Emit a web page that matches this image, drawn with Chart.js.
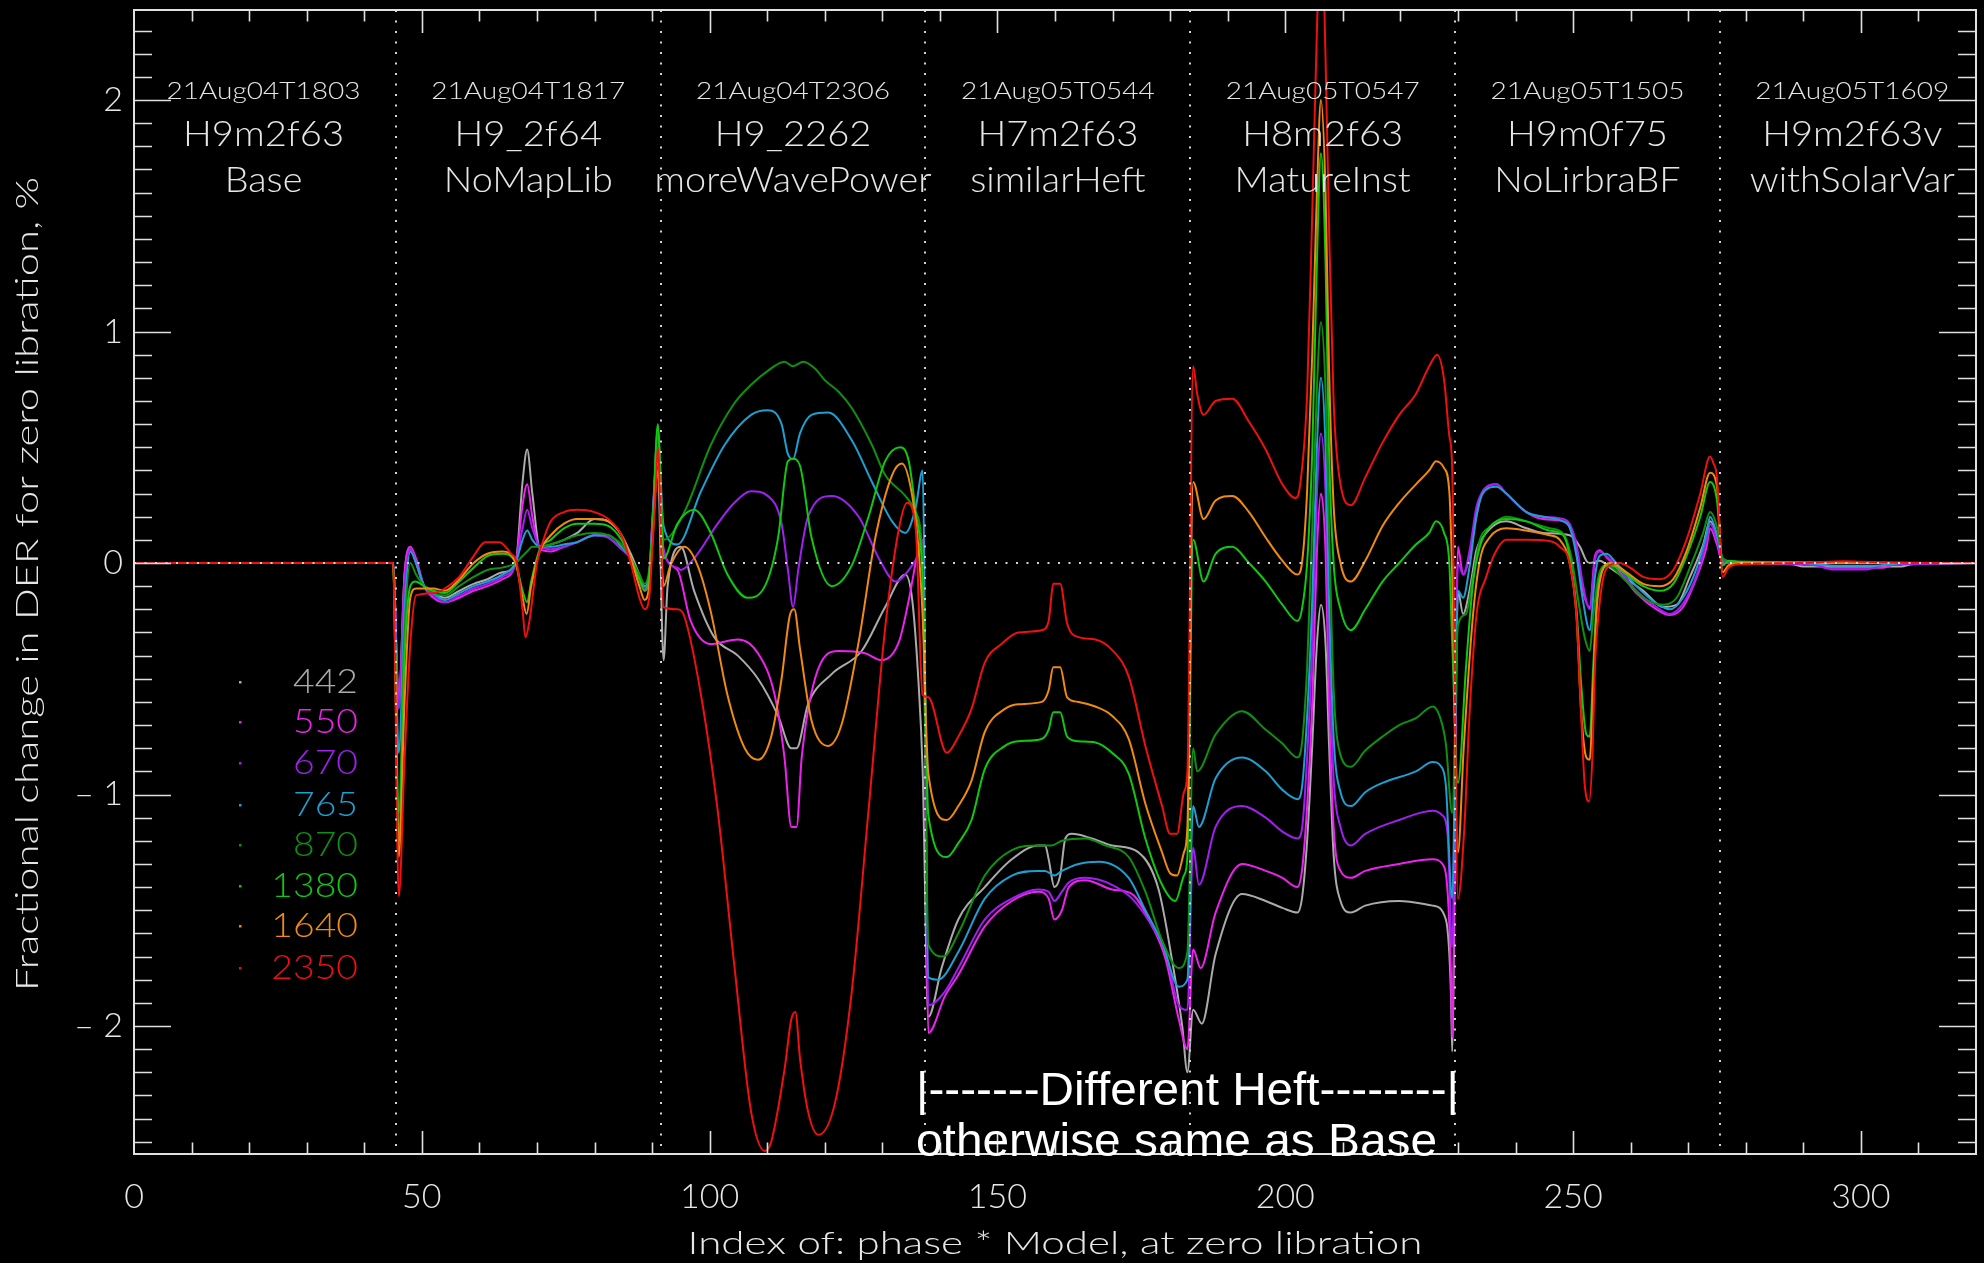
<!DOCTYPE html>
<html><head><meta charset="utf-8">
<script src="https://cdn.jsdelivr.net/npm/chart.js@4.4.1/dist/chart.umd.min.js"></script>
<style>html,body{margin:0;padding:0;background:#000;overflow:hidden}#wrap{width:1984px;height:1263px;position:relative}</style>
</head><body><div id="wrap"><canvas id="c"></canvas></div>
<script>
// ---------------- data ----------------
const wavelengths = ['442','550','670','765','870','1380','1640','2350'];
const seriesColors = ['#ababab','#ee22ee','#a020f0','#1e9fd0','#109010','#10c810','#f08a10','#f01010'];
const xTickValues = [0,50,100,150,200,250,300];
const yTickValues = [-2,-1,0,1,2];
const segBounds = [45.5,91.5,137.5,183.5,229.5,275.5];
const runDates = ['21Aug04T1803','21Aug04T1817','21Aug04T2306','21Aug05T0544','21Aug05T0547','21Aug05T1505','21Aug05T1609'];
const runModels = ['H9m2f63','H9_2f64','H9_2262','H7m2f63','H8m2f63','H9m0f75','H9m2f63v'];
const runNotes = ['Base','NoMapLib','moreWavePower','similarHeft','MatureInst','NoLirbraBF','withSolarVar'];
const noteLines = ['|-------Different Heft--------|','otherwise same as Base'];

const s442 = [[0,0],[45,0],
[46,-0.59],[47,-0.05],[48,0.06],[49,0],[50.4,-0.1],[52,-0.13],[54,-0.15],[56.5,-0.12],[59,-0.09],[61.4,-0.07],[64,-0.04],[66.3,0],[67.5,0.35],[68.3,0.49],[69.2,0.3],[70.5,0.07],[72.4,0.08],[74.7,0.1],[77,0.13],[80,0.19],[82.4,0.18],[84.7,0.12],[86.3,0.04],[87.8,-0.05],[88.7,-0.1],[89.5,-0.05],[90.1,0.15],[91,0.4],
[92,-0.42],[92.7,-0.1],[95,0.07],[97.3,-0.12],[100.8,-0.32],[104.9,-0.4],[108.4,-0.5],[111.9,-0.66],[114.2,-0.8],[115.1,-0.8],[117.1,-0.61],[121.2,-0.48],[126.4,-0.38],[130.5,-0.19],[134,-0.05],[135.2,-0.16],[136.3,-0.52],[137,-0.89],
[138,-1.96],[140.3,-1.75],[143.2,-1.54],[147.8,-1.40],[152.5,-1.28],[157.1,-1.22],[158.3,-1.22],[158.9,-1.28],[159.9,-1.40],[160.9,-1.35],[161.8,-1.19],[162.9,-1.17],[166.4,-1.19],[169.9,-1.22],[174.5,-1.25],[178,-1.41],[180.3,-1.71],[182.1,-2.0],[183,-2.2],
[184,-1.93],[185.5,-1.99],[187.9,-1.69],[192.5,-1.43],[196.6,-1.46],[199.5,-1.49],[202.1,-1.51],[202.9,-1.45],[203.8,-1.20],[204.7,-0.78],[205.5,-0.35],[206.2,-0.18],[207,-0.35],[207.6,-0.78],[208.4,-1.26],[209.6,-1.46],[211.4,-1.51],[213.9,-1.48],[219.8,-1.46],[225.6,-1.48],[227.9,-1.54],[228.8,-1.87],[229,-2.11],
[230,-0.12],[230.9,-0.22],[232,-0.12],[233.2,0.055],[234.3,0.11],[236.7,0.17],[238.4,0.18],[241.9,0.15],[244.8,0.13],[249.4,0.12],[251.2,0.07],[252.3,0.01],[252.9,0],[254.6,0.01],[256.4,-0.02],[259.3,-0.07],[262.2,-0.12],[265.7,-0.19],[268,-0.18],[270.3,-0.06],[272.6,0.08],[273.8,0.18],[275,0.12],
[276,0.01],[278,0],[288,-0.005],[290,-0.015],[307,-0.015],[309,-0.005],[321,0]];

const s550 = [[0,0],[45,0],
[46,-0.6],[47,-0.05],[48,0.07],[49,0.02],[50.4,-0.1],[52,-0.15],[54,-0.17],[56.5,-0.15],[59,-0.12],[61.4,-0.1],[64,-0.07],[66.3,0],[67.5,0.25],[68.3,0.34],[69.2,0.2],[70.5,0.06],[72.4,0.05],[74.7,0.07],[77,0.09],[80,0.12],[82.4,0.11],[84.7,0.06],[86.3,0.02],[87.8,-0.07],[88.7,-0.12],[89.5,-0.06],[90.1,0.2],[91,0.48],
[92,0.06],[94.4,-0.03],[96.7,-0.25],[100.2,-0.35],[104.9,-0.33],[108.4,-0.39],[111.3,-0.57],[113,-0.84],[114.2,-1.14],[115.1,-1.14],[116,-0.84],[118.3,-0.5],[122.4,-0.38],[127,-0.39],[129.9,-0.42],[132.9,-0.34],[134.6,-0.16],[136.3,0.06],[137,0.1],
[138,-2.03],[140.9,-1.87],[143.2,-1.78],[147.8,-1.57],[152.5,-1.46],[157.1,-1.42],[158.9,-1.45],[159.9,-1.54],[161.2,-1.5],[162.4,-1.40],[165.3,-1.37],[169.9,-1.41],[173.4,-1.43],[176.9,-1.57],[179.2,-1.71],[181.5,-1.97],[183,-2.1],
[184,-1.67],[185.3,-1.75],[187.9,-1.51],[192.5,-1.30],[196.6,-1.33],[199.5,-1.36],[202.1,-1.40],[202.9,-1.33],[203.8,-1.05],[204.7,-0.60],[205.5,0.05],[206.2,0.30],[207,0.05],[207.6,-0.60],[208.4,-1.14],[209.6,-1.33],[211.4,-1.36],[213.9,-1.33],[219.8,-1.30],[225.6,-1.28],[227.3,-1.30],[228.2,-1.42],[228.8,-1.78],[229,-2.05],
[230,0.07],[230.9,-0.05],[232,0.03],[233.2,0.2],[234.3,0.31],[236.7,0.34],[238.4,0.3],[241.9,0.22],[244.8,0.19],[248.3,0.18],[249.4,0.155],[250.6,0.055],[251.7,-0.12],[252.9,-0.19],[253.8,0.03],[254.6,0.055],[255.8,0.025],[257.5,-0.02],[261,-0.13],[264.5,-0.2],[266.8,-0.225],[269.1,-0.19],[271.5,-0.06],[273.2,0.07],[273.8,0.15],[275,0.08],
[276,0],[278,0],[292,-0.005],[294,-0.02],[304,-0.02],[306,-0.005],[321,0]];

const s670 = [[0,0],[45,0],
[46,-0.63],[47,-0.1],[48,0.06],[49,0],[50.4,-0.1],[52,-0.14],[54,-0.17],[56.5,-0.14],[59,-0.11],[61.4,-0.09],[64,-0.06],[66.3,0],[67.5,0.15],[68.3,0.23],[69.2,0.15],[70.5,0.07],[72.4,0.06],[74.7,0.07],[77,0.09],[80,0.12],[82.4,0.11],[84.7,0.06],[86.3,0.02],[87.8,-0.06],[88.7,-0.11],[89.5,-0.05],[90.1,0.2],[91,0.5],
[92,0.05],[94.4,-0.02],[95,-0.03],[97.3,0.02],[101.4,0.17],[104.3,0.26],[107.2,0.31],[110.1,0.29],[112.5,0.17],[113.6,-0.03],[114.5,-0.19],[115.4,-0.03],[117.1,0.2],[121.2,0.29],[125.9,0.2],[129.4,0.02],[132.3,-0.08],[134.6,-0.03],[136.3,0.04],[137,0.1],
[138,-1.91],[140.9,-1.85],[143.2,-1.75],[147.8,-1.54],[152.5,-1.45],[157.1,-1.41],[158.9,-1.42],[159.9,-1.46],[161.2,-1.42],[162.4,-1.38],[165.3,-1.36],[169.9,-1.39],[173.4,-1.45],[176.9,-1.57],[179.2,-1.68],[181.5,-1.91],[183,-1.93],
[184,-1.23],[185,-1.39],[187.9,-1.14],[192.5,-1.05],[196.6,-1.10],[199.5,-1.16],[202.1,-1.19],[202.9,-1.15],[203.8,-0.84],[204.7,-0.36],[205.5,0.3],[206.2,0.56],[207,0.3],[207.6,-0.36],[208.4,-0.93],[209.6,-1.14],[211.4,-1.22],[213.9,-1.17],[219.8,-1.11],[225.6,-1.07],[227.3,-1.09],[228.2,-1.17],[229,-1.66],
[230,0],[230.9,-0.05],[232,0.05],[233.2,0.24],[234.3,0.31],[236.7,0.34],[238.4,0.3],[241.9,0.22],[244.8,0.2],[248.3,0.19],[249.4,0.17],[250.6,0.08],[251.7,-0.09],[252.9,-0.2],[253.8,0.01],[254.6,0.05],[255.8,0.03],[257.5,-0.01],[261,-0.12],[264.5,-0.19],[266.8,-0.22],[269.1,-0.175],[271.5,-0.05],[273.2,0.1],[273.8,0.17],[275,0.1],
[276,0.01],[278,0],[292,-0.01],[295,-0.028],[301,-0.028],[304,-0.01],[321,0]];

const s765 = [[0,0],[45,0],
[46,-0.82],[47,-0.2],[48,0.05],[49,0],[50.4,-0.1],[52,-0.13],[54,-0.16],[56.5,-0.13],[59,-0.1],[61.4,-0.08],[64,-0.05],[66.3,0],[67.5,0.1],[68.3,0.14],[69.2,0.1],[70.5,0.07],[72.4,0.07],[74.7,0.08],[77,0.09],[80,0.12],[82.4,0.12],[84.7,0.07],[86.3,0.02],[87.8,-0.06],[88.7,-0.1],[89.5,-0.05],[90.1,0.2],[91,0.55],
[92,0.16],[94.4,0.08],[98.5,0.31],[102.6,0.51],[107.2,0.64],[110.1,0.66],[112.5,0.6],[113.6,0.47],[114.5,0.45],[115.7,0.56],[117.7,0.64],[120.6,0.65],[124.7,0.53],[128.2,0.35],[131.7,0.18],[134,0.13],[135.8,0.24],[137,0.40],
[138,-1.79],[139.7,-1.80],[143.2,-1.68],[147.8,-1.45],[152.5,-1.35],[157.1,-1.33],[158.3,-1.33],[159.9,-1.35],[161.2,-1.33],[164.1,-1.30],[167.6,-1.29],[172.8,-1.36],[175.7,-1.5],[178.6,-1.64],[181.5,-1.83],[183,-1.80],
[184,-1.05],[185,-1.14],[187.9,-0.93],[192.5,-0.84],[196.6,-0.90],[199.5,-0.98],[202.1,-1.02],[202.9,-0.97],[203.8,-0.66],[204.7,-0.15],[205.5,0.5],[206.2,0.80],[207,0.5],[207.6,-0.15],[208.4,-0.75],[209.6,-0.99],[211.4,-1.05],[213.9,-0.99],[216.9,-0.95],[222.7,-0.90],[225.6,-0.86],[227.1,-0.88],[227.9,-0.96],[229,-1.45],
[230,-0.12],[230.9,-0.15],[232,-0.02],[233.2,0.2],[234.3,0.30],[236.7,0.33],[238.4,0.30],[241.9,0.22],[244.8,0.2],[248.3,0.18],[249.4,0.155],[250.6,0.03],[251.7,-0.16],[252.9,-0.29],[253.8,-0.06],[254.6,0.03],[255.8,0.04],[257.5,0],[261,-0.1],[264.5,-0.175],[266.8,-0.2],[269.1,-0.15],[271.5,-0.02],[273.2,0.13],[273.8,0.2],[275,0.12],
[276,0.02],[278,0.005],[290,0],[296,-0.012],[302,-0.012],[308,0],[321,0]];

const s870 = [[0,0],[45,0],
[46,-1.08],[47,-0.3],[48,0],[49,-0.05],[50.4,-0.1],[52,-0.13],[54,-0.14],[56.5,-0.1],[59,-0.06],[61.4,-0.03],[64,-0.02],[66.3,0],[67.5,0.03],[68.3,0.05],[69.2,0.07],[70.5,0.07],[72.4,0.08],[74.7,0.1],[77,0.12],[80,0.13],[82.4,0.12],[84.7,0.08],[86.3,0.02],[87.8,-0.05],[88.7,-0.09],[89.5,-0.03],[90.1,0.15],[91,0.58],
[92,0.1],[95.6,0.22],[100.2,0.51],[104.3,0.69],[107.2,0.77],[110.1,0.83],[113,0.87],[114.5,0.85],[116.3,0.87],[118.3,0.84],[120,0.79],[122.4,0.74],[124.7,0.67],[128.2,0.51],[130.5,0.38],[134,0.29],[135.8,0.22],[137,0],
[138,-1.65],[140.6,-1.70],[143.2,-1.60],[147.8,-1.35],[152.5,-1.24],[157.1,-1.22],[159.4,-1.22],[161.2,-1.2],[165.3,-1.19],[168.7,-1.22],[172.8,-1.27],[175.7,-1.42],[178.6,-1.63],[181.5,-1.75],[183,-1.68],
[184,-0.80],[184.7,-0.90],[187.9,-0.74],[192.5,-0.64],[196.6,-0.72],[199.5,-0.78],[202.1,-0.84],[202.9,-0.78],[203.8,-0.45],[204.7,0.16],[205.5,0.75],[206.2,1.04],[207,0.75],[207.6,0.16],[208.4,-0.54],[209.6,-0.83],[211.4,-0.88],[213.9,-0.81],[216.9,-0.75],[219.8,-0.70],[222.7,-0.67],[225.6,-0.62],[226.8,-0.66],[227.9,-0.78],[229,-1.08],
[230,-0.27],[231.4,-0.22],[232.6,-0.06],[233.8,0.1],[235.5,0.155],[238.4,0.2],[241.9,0.18],[245.9,0.15],[248.3,0.127],[249.7,0.026],[250.9,-0.16],[252,-0.32],[252.9,-0.38],[253.5,-0.23],[254.4,-0.06],[255.8,-0.01],[259.3,-0.08],[262.2,-0.15],[265.7,-0.18],[268,-0.15],[270.3,-0.02],[272.6,0.13],[273.8,0.22],[275,0.155],
[276,0.02],[278,0.005],[321,0]];

const s1380 = [[0,0],[45,0],
[46,-1.21],[47,-0.4],[48,-0.1],[48.9,-0.08],[50.4,-0.1],[52,-0.12],[54,-0.13],[56.5,-0.08],[59,-0.02],[61.4,0.03],[64,0.04],[66.3,0],[67.5,-0.12],[68.3,-0.17],[69,-0.08],[70.5,0.06],[72.4,0.1],[74.7,0.15],[77,0.17],[80,0.17],[82.4,0.16],[84.7,0.1],[86.3,0.02],[87.8,-0.07],[88.7,-0.12],[89.5,-0.05],[90.1,0.15],[91,0.6],
[92,0.02],[94.4,0.17],[97.3,0.23],[100.2,0.13],[103.1,-0.05],[106.6,-0.15],[109.6,-0.1],[111.9,0.11],[113.6,0.44],[114.5,0.45],[115.7,0.42],[117.7,0.11],[121.2,-0.1],[124.7,-0.01],[127.6,0.2],[130.5,0.44],[133.1,0.5],[134.6,0.44],[135.8,0.22],[137,-0.07],
[138,-1.09],[141.2,-1.27],[143.2,-1.21],[145.5,-1.11],[147.8,-0.89],[151.3,-0.79],[153.6,-0.77],[157.7,-0.76],[158.9,-0.72],[159.7,-0.645],[160.9,-0.645],[162.1,-0.75],[164.1,-0.77],[167,-0.775],[169.9,-0.82],[172.8,-0.91],[175.7,-1.19],[178.6,-1.39],[180.9,-1.46],[182.4,-1.35],[183,-1.27],
[184,0.10],[185.8,-0.08],[187.9,0.04],[190.8,0.07],[193.7,0],[196.6,-0.08],[199.5,-0.18],[202.1,-0.25],[202.9,-0.2],[203.8,0],[204.7,0.49],[205.5,1.3],[206.2,1.77],[207,1.3],[207.6,0.49],[208.4,0],[209.6,-0.2],[211.4,-0.29],[213.9,-0.2],[216.9,-0.08],[219.8,0],[222.7,0.08],[225,0.13],[226.2,0.18],[227.6,0.13],[228.5,0],[229,-0.34],
[230,-0.95],[231.4,-0.45],[232.6,-0.09],[233.8,0.07],[235.5,0.155],[238.4,0.19],[241.9,0.18],[245.9,0.14],[248.3,0.12],[249.4,0.03],[250.6,-0.2],[251.4,-0.52],[252.3,-0.74],[252.9,-0.75],[253.5,-0.45],[254.1,-0.17],[254.9,-0.04],[256.4,-0.01],[259.3,-0.05],[262.2,-0.1],[265.1,-0.12],[267.4,-0.09],[269.7,0.03],[272.1,0.2],[273.8,0.35],[275,0.27],
[276,-0.01],[277,0.01],[279,0.005],[321,0]];

const s1640 = [[0,0],[45,0],
[46,-1.27],[47,-0.6],[48,-0.15],[49,-0.11],[52,-0.11],[54,-0.12],[56.5,-0.07],[59,0],[61.4,0.04],[64,0.05],[66.3,0],[67.5,-0.15],[68.2,-0.22],[69,-0.1],[70.5,0.05],[72.4,0.12],[74.7,0.17],[77,0.19],[80,0.19],[82.4,0.18],[84.7,0.12],[86.3,0.02],[87.8,-0.1],[88.7,-0.16],[89.5,-0.1],[90.1,0.1],[91,0.45],
[92,-0.1],[93.2,-0.01],[95.6,0.07],[97.9,-0.01],[100.2,-0.21],[103.1,-0.57],[106.1,-0.8],[108.4,-0.85],[110.7,-0.75],[112.5,-0.5],[113.9,-0.23],[114.7,-0.2],[115.7,-0.37],[117.7,-0.68],[120.6,-0.79],[122.9,-0.7],[125.9,-0.34],[128.8,0.11],[131.7,0.38],[133.4,0.43],[135.2,0.29],[136.3,0.06],[137,-0.23],
[138,-0.91],[141.2,-1.11],[143.2,-1.05],[145.5,-0.94],[147.8,-0.73],[151.3,-0.63],[153.6,-0.61],[157.7,-0.6],[158.9,-0.55],[159.7,-0.45],[160.9,-0.45],[162.1,-0.58],[164.1,-0.6],[167,-0.62],[169.9,-0.66],[172.8,-0.76],[175.7,-1.04],[178.6,-1.25],[180,-1.34],[181.2,-1.35],[182.4,-1.25],[183,-1.14],
[184,0.35],[185.8,0.19],[187.9,0.27],[190.8,0.29],[193.7,0.22],[196.6,0.11],[199.5,0.01],[202.1,-0.05],[202.9,0],[203.8,0.31],[204.7,0.91],[205.5,1.6],[206.2,2.0],[207,1.6],[207.6,0.85],[208.4,0.25],[209.6,0],[211.4,-0.08],[213.9,0.01],[216.9,0.16],[219.8,0.26],[222.7,0.34],[225,0.40],[226.2,0.44],[227.6,0.41],[228.5,0.31],[229,-0.05],
[230,-1.25],[231,-0.8],[232.6,-0.23],[233.8,0.01],[235.5,0.11],[238.4,0.15],[241.9,0.14],[245.9,0.12],[247.7,0.10],[249.4,0],[250.6,-0.23],[251.4,-0.64],[252.3,-0.84],[252.9,-0.85],[253.5,-0.52],[254.1,-0.2],[254.9,-0.05],[256.4,0],[259.3,-0.04],[262.2,-0.09],[265.1,-0.10],[267.4,-0.07],[269.7,0.05],[272.1,0.24],[273.8,0.39],[275,0.33],
[276,-0.04],[277,-0.01],[279,0],[321,0]];

const s2350 = [[0,0],[45,0],
[46,-1.44],[47,-0.85],[48,-0.35],[49,-0.14],[52,-0.13],[54,-0.11],[56.5,-0.06],[59,0.03],[61,0.09],[63.5,0.09],[65.5,0.04],[66.5,0],[67.5,-0.2],[68,-0.32],[68.7,-0.25],[70,0],[71,0.09],[72.4,0.18],[74.7,0.22],[77,0.23],[80,0.22],[82.4,0.19],[84.7,0.12],[86.3,0],[87.8,-0.15],[88.7,-0.2],[89.5,-0.15],[90.1,0.09],[90.6,0.3],[91,0.5],
[92,-0.19],[94.4,-0.2],[95.6,-0.23],[98.5,-0.57],[101.4,-1.07],[104.3,-1.74],[107.2,-2.37],[109.6,-2.54],[110.7,-2.5],[113,-2.19],[114.2,-1.97],[114.9,-1.94],[115.7,-2.14],[117.1,-2.37],[118.9,-2.47],[121.8,-2.33],[124.7,-1.85],[127.6,-1.07],[130.5,-0.28],[132.9,0.15],[134.3,0.26],[135.8,0.15],[137,-0.57],
[138,-0.58],[141.2,-0.82],[143.2,-0.75],[145.5,-0.63],[147.8,-0.43],[150.7,-0.35],[153.6,-0.30],[157.7,-0.29],[158.9,-0.25],[159.7,-0.09],[160.9,-0.09],[162.1,-0.26],[164.1,-0.32],[167,-0.33],[169.9,-0.375],[172.8,-0.49],[175.7,-0.79],[178.6,-1.05],[180,-1.17],[181.2,-1.17],[182.4,-0.99],[183,-0.9],
[184,0.85],[184.7,0.73],[185.8,0.64],[187.9,0.70],[190.8,0.71],[193.7,0.61],[196.6,0.49],[199.5,0.34],[201.8,0.28],[202.6,0.34],[203.8,0.73],[204.7,1.52],[205.5,2.3],[206,2.6],[206.5,2.6],[207,2.18],[207.6,1.46],[208.4,0.70],[209.6,0.34],[211.4,0.25],[213.9,0.37],[216.9,0.52],[219.8,0.64],[222.7,0.73],[225,0.85],[226.4,0.90],[227.6,0.79],[228.5,0.55],[229,0.41],
[230,-1.45],[231.1,-1.15],[232,-0.66],[233.2,-0.23],[234.9,-0.06],[236.7,0.055],[238.4,0.10],[241.9,0.10],[245.9,0.095],[247.7,0.07],[249.4,0],[250.6,-0.23],[251.4,-0.66],[252,-0.95],[252.8,-1.03],[253.4,-0.81],[253.8,-0.45],[254.4,-0.23],[255.2,-0.07],[256.4,-0.01],[258.1,0],[259.9,-0.02],[262.2,-0.06],[265.1,-0.07],[267.4,-0.03],[269.7,0.10],[272.1,0.30],[273.8,0.46],[274.4,0.43],[275,0.37],
[276,-0.06],[277,-0.02],[279,-0.005],[290,0],[297,0.008],[300,0.005],[310,0],[321,0]];

const seriesData = [s442, s550, s670, s765, s870, s1380, s1640, s2350];

// ---------------- drawing ----------------
const LIGHT = '300 {S}px Lato, "DejaVu Sans", sans-serif';
function fnt(s){ return LIGHT.replace('{S}', s); }

function stretchText(ctx, text, x, y, font, sx, align, color, base){
  ctx.save();
  ctx.font = font; ctx.fillStyle = color; ctx.textAlign = align; ctx.textBaseline = base || 'middle';
  ctx.translate(x, y); ctx.scale(sx, 1); ctx.fillText(text, 0, 0);
  ctx.restore();
}
function factor(ctx, sample, font, target){ ctx.save(); ctx.font = font; const w = ctx.measureText(sample).width; ctx.restore(); return target / w; }

const idlPlugin = {
  id: 'idl',
  beforeDraw(chart){ const c = chart.ctx; c.save(); c.fillStyle = '#000'; c.fillRect(0,0,chart.width,chart.height); c.restore(); },
  afterDatasetsDraw(chart){
    const ctx = chart.ctx, a = chart.chartArea, xs = chart.scales.x, ys = chart.scales.y;
    ctx.save();
    // dotted separators and zero line
    ctx.strokeStyle = '#d4d4d4'; ctx.lineWidth = 2; ctx.setLineDash([2, 8.5]);
    segBounds.forEach(b => { const px = Math.round(xs.getPixelForValue(b)); ctx.beginPath(); ctx.moveTo(px, a.top); ctx.lineTo(px, a.bottom); ctx.stroke(); });
    const p0 = Math.round(ys.getPixelForValue(0));
    ctx.beginPath(); ctx.moveTo(a.left, p0); ctx.lineTo(a.right, p0); ctx.stroke();
    ctx.setLineDash([]);
    // box
    ctx.strokeStyle = '#e0e0e0'; ctx.lineWidth = 2;
    ctx.strokeRect(a.left, a.top, a.right - a.left, a.bottom - a.top);
    // ticks
    ctx.lineWidth = 1.6;
    for (let v = 10; v < 320; v += 10){
      const px = Math.round(xs.getPixelForValue(v)) + 0.5; const L = (v % 50 === 0) ? 23 : 11.5;
      ctx.beginPath(); ctx.moveTo(px, a.bottom); ctx.lineTo(px, a.bottom - L); ctx.moveTo(px, a.top); ctx.lineTo(px, a.top + L); ctx.stroke();
    }
    for (let k = -25; k <= 23; k++){
      const v = k / 10; const py = Math.round(ys.getPixelForValue(v)) + 0.5; const L = (k % 10 === 0) ? 37 : 18;
      ctx.beginPath(); ctx.moveTo(a.left, py); ctx.lineTo(a.left + L, py); ctx.moveTo(a.right, py); ctx.lineTo(a.right - L, py); ctx.stroke();
    }
    // run labels
    const f1 = fnt(23), f2 = fnt(36), f3 = fnt(35);
    const k1 = factor(ctx, runDates[0], f1, 194), k2 = factor(ctx, runModels[0], f2, 161), k3 = factor(ctx, runNotes[2], f3, 277);
    const edges = [-0.5].concat(segBounds, [321.5]);
    for (let i = 0; i < runDates.length; i++){
      const cx = xs.getPixelForValue((edges[i] + edges[i+1]) / 2);
      stretchText(ctx, runDates[i], cx, 92, f1, k1, 'center', '#e6e6e6');
      stretchText(ctx, runModels[i], cx, 134, f2, k2, 'center', '#e6e6e6');
      stretchText(ctx, runNotes[i], cx, 181, f3, k3, 'center', '#e6e6e6');
    }
    // legend
    const fl = fnt(34); const kl = factor(ctx, '442', fl, 65);
    const legY = [682, 722, 763, 805, 845, 886, 926, 968];
    wavelengths.forEach((w, i) => {
      ctx.fillStyle = seriesColors[i]; ctx.fillRect(239, legY[i] - 1, 2.5, 2.5);
      stretchText(ctx, w, 358, legY[i], fl, kl, 'right', seriesColors[i]);
    });
    // axis titles
    const ft = fnt(32);
    const xt = 'Index of: phase * Model, at zero libration';
    stretchText(ctx, xt, 1055, 1244, ft, factor(ctx, xt, ft, 735), 'center', '#e6e6e6');
    const yt = 'Fractional change in DER for zero libration, %';
    ctx.save(); ctx.translate(28, 584); ctx.rotate(-Math.PI / 2);
    stretchText(ctx, yt, 0, 0, ft, factor(ctx, yt, ft, 814), 'center', '#e6e6e6');
    ctx.restore();
    // annotation
    const fa = '47px "Liberation Sans", Arial, sans-serif';
    stretchText(ctx, noteLines[0], 916, 1105, fa, factor(ctx, noteLines[0], fa, 543), 'left', '#ffffff', 'alphabetic');
    stretchText(ctx, noteLines[1], 916, 1156, fa, factor(ctx, noteLines[1], fa, 521), 'left', '#ffffff', 'alphabetic');
    ctx.restore();
  }
};

const datasets = wavelengths.map((w, i) => ({
  label: w,
  data: seriesData[i].map(p => ({x: p[0], y: p[1]})),
  borderColor: seriesColors[i],
  backgroundColor: seriesColors[i],
  borderWidth: 2,
  pointRadius: 0,
  fill: false,
  cubicInterpolationMode: 'monotone',
  order: wavelengths.length - 1 - i
}));

new Chart(document.getElementById('c'), {
  type: 'line',
  data: { datasets },
  options: {
    responsive: true, maintainAspectRatio: false, devicePixelRatio: 1, animation: false,
    layout: { padding: { top: 10, right: 8, left: 0, bottom: 0 } },
    plugins: { legend: { display: false }, tooltip: { enabled: false } },
    scales: {
      x: {
        type: 'linear', min: 0, max: 320,
        afterFit: s => { s.height = 109; s.paddingLeft = 0; s.paddingRight = 0; },
        afterBuildTicks: s => { s.ticks = xTickValues.map(v => ({value: v})); },
        grid: { display: false, drawTicks: false }, border: { display: false },
        ticks: { color: '#e6e6e6', font: { family: 'Lato', size: 34, weight: 300 }, padding: 23, maxRotation: 0, autoSkip: false }
      },
      y: {
        type: 'linear', min: -2.553, max: 2.389,
        afterFit: s => { s.width = 134; s.paddingTop = 0; s.paddingBottom = 0; },
        afterBuildTicks: s => { s.ticks = yTickValues.map(v => ({value: v})); },
        grid: { display: false, drawTicks: false }, border: { display: false },
        ticks: { color: '#e6e6e6', font: { family: 'Lato', size: 34, weight: 300 }, padding: 11,
          callback: v => (v < 0 ? '\u2013 ' + Math.abs(v) : String(v)) }
      }
    }
  },
  plugins: [idlPlugin]
});
</script></body></html>
